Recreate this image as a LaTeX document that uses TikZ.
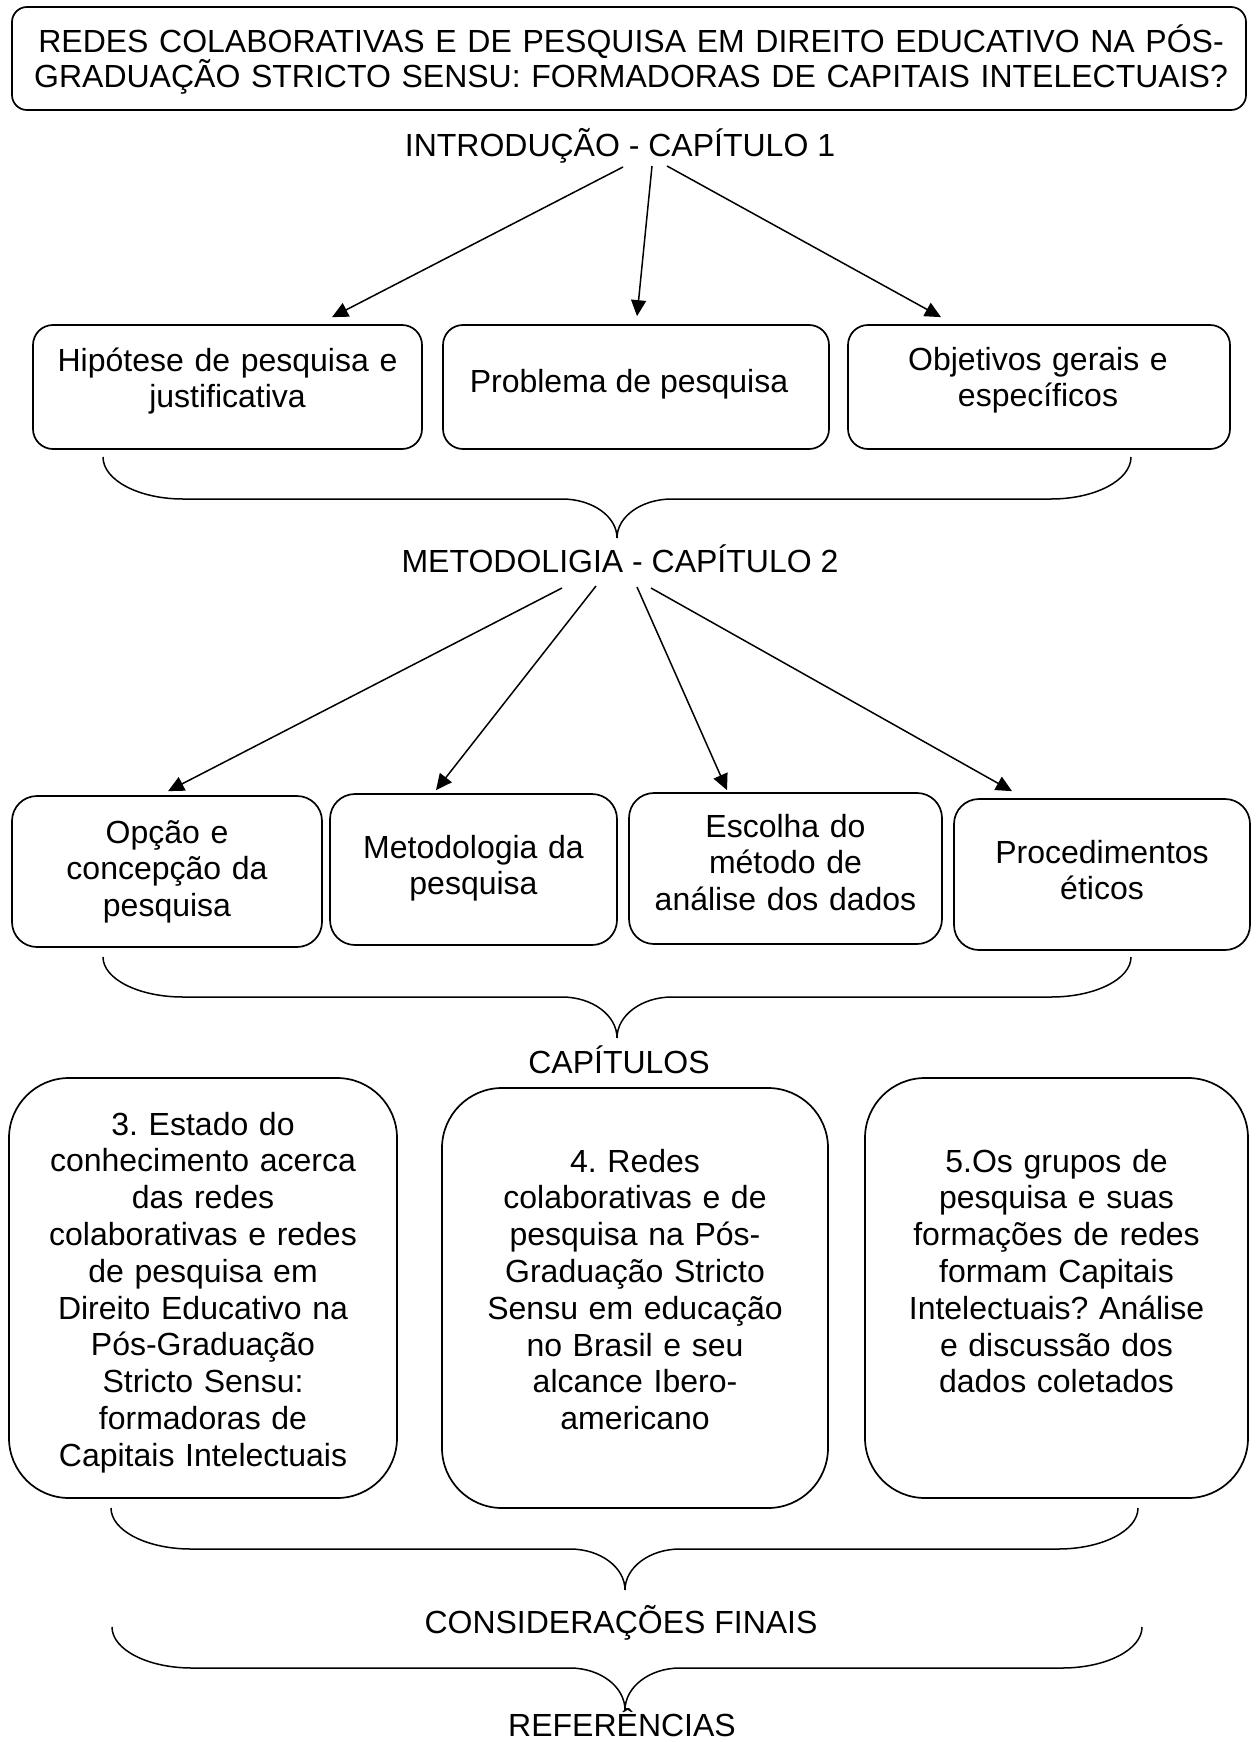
\documentclass[tikz,border=0pt]{standalone}
\usepackage{fontspec}
\setmainfont{Liberation Sans}
\usetikzlibrary{arrows.meta,calc}
\frenchspacing
\newcommand{\wbrace}[6]{%
  \pgfmathsetmacro{\brRa}{80}\pgfmathsetmacro{\brRb}{55}%
  \pgfmathsetmacro{\brKa}{#5-#4}\pgfmathsetmacro{\brKb}{#6-#5}%
  \draw[bracestyle] (#1,#4) .. controls (#1,{#4+0.552*\brKa}) and ({#1+0.448*\brRa},#5) .. ({#1+\brRa},#5)
    -- ({#3-\brRb},#5) .. controls ({#3-0.448*\brRb},#5) and (#3,{#6-0.552*\brKb}) .. (#3,#6)
    .. controls (#3,{#6-0.552*\brKb}) and ({#3+0.448*\brRb},#5) .. ({#3+\brRb},#5)
    -- ({#2-\brRa},#5) .. controls ({#2-0.448*\brRa},#5) and (#2,{#4+0.552*\brKa}) .. (#2,#4);}
\begin{document}
\begin{tikzpicture}[x=1pt,y=-1pt,
  box/.style={draw=black, line width=1.7pt, rectangle, inner sep=0pt},
  lbl/.style={font=\fontsize{32}{36.8}\selectfont\frenchspacing, inner sep=0pt, anchor=base},
  blk/.style={lbl, text width=#1, align=center},
  arr/.style={line width=1.5pt, -{Triangle[length=16pt,width=15pt]}},
  bracestyle/.style={line width=1.5pt}]
\fill[white] (0,0) rectangle (1256,1742);
\useasboundingbox (0,0) rectangle (1256,1742);

% title
\node[box, rounded corners=15pt, minimum width=1234pt, minimum height=103pt] (title) at (629,58.5) {};
\node[blk=1220pt, font=\fontsize{32}{35}\selectfont] (titlet) at (631,53)
  {REDES COLABORATIVAS E DE PESQUISA EM DIREITO EDUCATIVO NA PÓS-\\GRADUAÇÃO STRICTO SENSU: FORMADORAS DE CAPITAIS INTELECTUAIS?};

% chapter 1
\node[lbl] (intro) at (620,157) {INTRODUÇÃO - CAPÍTULO 1};
\node[box, rounded corners=20pt, minimum width=389pt, minimum height=124pt] (h1) at (227.5,387) {};
\node[box, rounded corners=20pt, minimum width=386pt, minimum height=124pt] (h2) at (636,387) {};
\node[box, rounded corners=20pt, minimum width=382pt, minimum height=124pt] (h3) at (1039,387) {};
\node[blk=370pt] (h1t) at (227.5,371) {Hipótese de pesquisa e\\justificativa};
\node[lbl] (h2t) at (629,392) {Problema de pesquisa};
\node[blk=370pt] (h3t) at (1038,370) {Objetivos gerais e\\específicos};
\draw[arr] ($(intro.base)+(3,10)$) -- ($(h1.north)+(104.5,-7)$);
\draw[arr] ($(intro.base)+(32,9)$) -- ($(h2.north)+(1,-8)$);
\draw[arr] ($(intro.base)+(47,9)$) -- ($(h3.north)+(-98,-7)$);
\wbrace{103}{1131}{617}{457}{499}{538}

% chapter 2
\node[lbl] (meto) at (620,572) {METODOLIGIA - CAPÍTULO 2};
\node[box, rounded corners=25pt, minimum width=310pt, minimum height=151pt] (m1) at (167,871.5) {};
\node[box, rounded corners=25pt, minimum width=287pt, minimum height=151pt] (m2) at (473.5,869.5) {};
\node[box, rounded corners=25pt, minimum width=313pt, minimum height=151pt] (m3) at (785.5,868.5) {};
\node[box, rounded corners=25pt, minimum width=296pt, minimum height=151pt] (m4) at (1102,874.5) {};
\node[blk=300pt] (m1t) at (167,843) {Opção e\\concepção da\\pesquisa};
\node[blk=280pt] (m2t) at (473.5,858) {Metodologia da\\pesquisa};
\node[blk=305pt] (m3t) at (785.5,837) {Escolha do\\método de\\análise dos dados};
\node[blk=290pt] (m4t) at (1102,863) {Procedimentos\\éticos};
\draw[arr] ($(meto.base)+(-58,16)$) -- ($(m1.north)+(1,-4)$);
\draw[arr] ($(meto.base)+(-24,14)$) -- ($(m2.north)+(-37.5,-3)$);
\draw[arr] ($(meto.base)+(17,15)$) -- ($(m3.north)+(-58.5,-2)$);
\draw[arr] ($(meto.base)+(31,16)$) -- ($(m4.north)+(-90,-7)$);
\wbrace{103}{1131}{617}{957}{997}{1038}

% chapters
\node[lbl] (caps) at (619,1073) {CAPÍTULOS};
\node[box, rounded corners=60pt, minimum width=388pt, minimum height=420pt] (c1) at (203,1288) {};
\node[box, rounded corners=60pt, minimum width=386pt, minimum height=420pt] (c2) at (635,1298) {};
\node[box, rounded corners=60pt, minimum width=383pt, minimum height=420pt] (c3) at (1056.5,1288) {};
\node[blk=380pt] (c1t) at (203,1135) {3. Estado do\\conhecimento acerca\\das redes\\colaborativas e redes\\de pesquisa em\\Direito Educativo na\\Pós-Graduação\\Stricto Sensu:\\formadoras de\\Capitais Intelectuais};
\node[blk=380pt] (c2t) at (635,1172) {4. Redes\\colaborativas e de\\pesquisa na Pós-\\Graduação Stricto\\Sensu em educação\\no Brasil e seu\\alcance Ibero-\\americano};
\node[blk=375pt] (c3t) at (1056.5,1172) {5.Os grupos de\\pesquisa e suas\\formações de redes\\formam Capitais\\Intelectuais? Análise\\e discussão dos\\dados coletados};
\wbrace{111}{1138}{625}{1508}{1549}{1590}

% final
\node[lbl] (cons) at (621,1633) {CONSIDERAÇÕES FINAIS};
\wbrace{112}{1142}{625}{1627}{1668}{1710}
\node[lbl] (refs) at (622,1736) {REFERÊNCIAS};
\end{tikzpicture}
\end{document}
